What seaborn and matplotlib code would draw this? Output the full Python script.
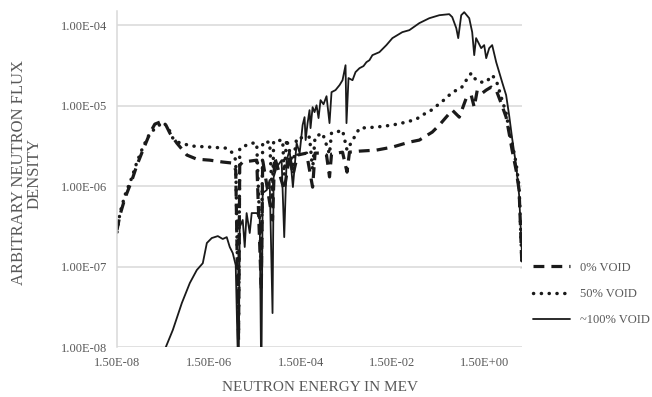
import numpy as np
import pandas as pd
import matplotlib
matplotlib.use("Agg")
import matplotlib.pyplot as plt
import seaborn as sns
from matplotlib.ticker import FixedLocator, FuncFormatter, NullLocator

# ---------------- data (energy in MeV, arbitrary flux density) ----------------
void100_energy = [1.0e-7, 1.74e-7, 2.47e-7, 3.88e-7, 5.79e-7, 8.22e-7, 1.11e-6, 1.36e-6,
                  1.74e-6, 2.36e-6, 3.02e-6, 3.69e-6, 4.29e-6, 4.99e-6, 5.79e-6, 6.67e-6,
                  7.08e-6, 8.22e-6, 9.10e-6, 1.00e-5, 1.17e-5, 1.29e-5, 1.66e-5, 1.93e-5,
                  2.09e-5, 2.24e-5, 2.74e-5, 3.18e-5, 3.67e-5, 3.88e-5, 4.51e-5, 5.79e-5,
                  6.6e-5, 7.44e-5, 8.65e-5, 1.02e-4, 1.23e-4, 1.43e-4, 1.66e-4, 1.83e-4,
                  1.93e-4, 2.13e-4, 2.35e-4, 2.47e-4, 2.74e-4, 3.02e-4, 3.34e-4, 3.69e-4,
                  4.08e-4, 4.74e-4, 5.51e-4, 6.40e-4, 7.08e-4, 8.65e-4, 1.06e-3, 1.23e-3,
                  1.43e-3, 1.50e-3, 1.66e-3, 2.03e-3, 2.36e-3, 2.88e-3, 3.52e-3, 4.08e-3,
                  4.74e-3, 5.51e-3, 7.82e-3, 1.11e-2,
                  1.50e-2, 2.47e-2, 3.51e-2, 5.79e-2, 9.55e-2, 0.158, 0.260, 0.302, 0.370,
                  0.408, 0.474, 0.551, 0.708, 0.822, 0.910, 1.00, 1.29, 1.50, 1.66, 1.93,
                  2.24, 2.74, 3.18, 3.69, 4.51, 5.24, 6.09, 7.44, 8.65, 10.0]
void100_flux = [3e-9, 1.0e-8, 1.63e-8, 3.52e-8, 6.24e-8, 9.05e-8, 1.10e-7, 1.96e-7,
                2.26e-7, 2.39e-7, 2.20e-7, 2.32e-7, 1.75e-7, 1.47e-7, 1.04e-7, 3e-9,
                3.10e-7, 3.79e-7, 1.75e-7, 4.62e-7, 2.61e-7, 4.62e-7, 4.62e-7, 4.12e-7,
                3e-9, 8.19e-7, 8.92e-7, 1.19e-6, 2.64e-8, 1.29e-6, 1.72e-6, 2.10e-6,
                2.32e-7, 2.10e-6, 2.80e-6, 9.72e-7, 3.42e-6, 2.57e-6, 5.73e-6, 7.19e-6,
                3.73e-6, 6.06e-6, 8.79e-6, 5.25e-6, 9.57e-6, 8.30e-6, 1.01e-5, 7.0e-6,
                1.17e-5, 1.04e-5, 1.31e-5, 6.06e-6, 1.47e-5, 1.56e-5, 1.80e-5, 2.07e-5,
                3.18e-5, 6.06e-6, 2.20e-5, 2.07e-5, 2.61e-5, 2.92e-5, 3.10e-5, 3.47e-5,
                3.67e-5, 4.24e-5, 4.62e-5, 5.65e-5,
                6.90e-5, 8.19e-5, 8.67e-5, 1.06e-4, 1.22e-4, 1.33e-4, 1.37e-4, 1.26e-4, 9.18e-5,
                6.90e-5, 1.33e-4, 1.45e-4, 1.22e-4, 8.19e-5, 4.24e-5, 6.90e-5, 5.18e-5, 5.65e-5, 3.89e-5, 5.18e-5,
                5.65e-5, 3.47e-5, 2.61e-5, 1.96e-5, 1.35e-5, 7.62e-6, 3.94e-6, 1.82e-6, 7.73e-7, 1.39e-7]

void50_energy = [1.50e-8, 1.74e-8, 2.24e-8, 3.18e-8, 4.08e-8, 5.51e-8, 7.82e-8, 1.11e-7,
                 1.50e-7, 1.93e-7, 2.47e-7, 3.51e-7, 6.73e-7, 1.58e-6, 3.69e-6, 4.99e-6,
                 5.79e-6, 6.67e-6, 7.08e-6, 1.00e-5, 1.29e-5, 1.66e-5, 2.09e-5, 2.24e-5,
                 3.18e-5, 3.67e-5, 3.88e-5, 6.10e-5, 6.6e-5, 7.44e-5, 1.02e-4, 1.23e-4,
                 2.35e-4, 2.74e-4, 3.10e-4, 4.51e-4, 6.40e-4, 7.08e-4, 9.10e-4, 1.23e-3,
                 1.54e-3, 2.88e-3, 6.73e-3, 1.50e-2,
                 3.02e-2, 4.99e-2, 6.73e-2, 0.106, 0.224, 0.302, 0.474, 0.610, 0.782, 0.910,
                 1.17, 1.66, 2.24, 2.74, 3.18, 3.69, 4.51, 5.24, 6.09, 7.44, 8.65, 10.0]
void50_flux = [2.68e-7, 4.62e-7, 7.73e-7, 1.29e-6, 1.99e-6, 3.05e-6, 4.55e-6, 5.41e-6,
               6.24e-6, 5.41e-6, 3.94e-6, 3.42e-6, 3.14e-6, 3.05e-6, 2.96e-6, 2.57e-6,
               2.10e-6, 1.63e-8, 2.96e-6, 3.23e-6, 3.42e-6, 3.42e-6, 9.86e-8, 3.52e-6,
               3.52e-6, 6.70e-7, 3.62e-6, 3.73e-6, 1.37e-6, 3.84e-6, 1.82e-6, 3.94e-6,
               4.06e-6, 1.60e-6, 4.10e-6, 4.55e-6, 2.50e-6, 4.60e-6, 4.69e-6, 4.96e-6,
               2.80e-6, 5.25e-6, 5.41e-6, 5.73e-6,
               6.24e-6, 6.79e-6, 7.62e-6, 8.79e-6, 1.24e-5, 1.47e-5, 1.65e-5, 2.07e-5, 2.53e-5, 2.20e-5,
               1.96e-5, 1.96e-5, 2.39e-5, 2.07e-5, 1.56e-5, 1.17e-5, 8.07e-6, 4.96e-6, 3.42e-6, 1.93e-6, 9.72e-7, 1.04e-7]

void0_energy = [1.50e-8, 1.74e-8, 2.24e-8, 3.18e-8, 4.08e-8, 5.51e-8, 7.82e-8, 1.00e-7,
                1.29e-7, 1.66e-7, 2.13e-7, 3.02e-7, 4.99e-7, 8.22e-7, 1.58e-6, 3.02e-6,
                4.99e-6, 5.79e-6, 6.67e-6, 7.08e-6, 8.22e-6, 1.66e-5, 2.09e-5, 2.24e-5,
                3.67e-5, 4.08e-5, 6.6e-5, 8.65e-5, 1.02e-4, 1.29e-4, 2.02e-4, 2.74e-4,
                3.10e-4, 4.51e-4, 5.51e-4, 6.40e-4, 7.08e-4, 1.23e-3, 1.54e-3, 1.74e-3,
                2.88e-3, 6.73e-3, 1.50e-2,
                3.51e-2, 5.79e-2, 0.111, 0.158, 0.302, 0.430, 0.610, 0.782, 0.910, 1.06,
                1.36, 1.66, 2.13, 2.74, 3.52, 4.51, 5.24, 6.09, 7.44, 8.65, 10.0]
void0_flux = [2.84e-7, 4.36e-7, 7.10e-7, 1.19e-6, 1.82e-6, 2.80e-6, 4.55e-6, 5.89e-6,
              6.24e-6, 6.06e-6, 4.55e-6, 3.42e-6, 2.43e-6, 2.16e-6, 2.10e-6, 1.99e-6,
              1.93e-6, 1.58e-6, 1.22e-8, 1.82e-6, 1.99e-6, 2.10e-6, 5.11e-8, 2.10e-6,
              3.79e-7, 2.29e-6, 8.92e-7, 2.43e-6, 1.37e-6, 2.43e-6, 2.57e-6, 9.70e-7,
              2.57e-6, 2.57e-6, 2.43e-6, 1.30e-6, 2.50e-6, 2.64e-6, 1.49e-6, 2.64e-6,
              2.72e-6, 2.80e-6, 3.05e-6,
              3.52e-6, 3.73e-6, 4.69e-6, 5.73e-6, 8.79e-6, 7.19e-6, 1.24e-5, 1.35e-5, 9.57e-6, 1.56e-5,
              1.43e-5, 1.56e-5, 1.70e-5, 1.56e-5, 1.07e-5, 7.19e-6, 4.55e-6, 2.80e-6, 1.58e-6, 8.92e-7, 9.57e-8]

series_labels = ["0% VOID", "50% VOID", "~100% VOID"]
x_ticks = [1.5e-8, 1.5e-6, 1.5e-4, 1.5e-2, 1.5e0]
y_ticks = [1e-8, 1e-7, 1e-6, 1e-5, 1e-4]

# ---------------- plotting ----------------
sns.set_theme(style="white")
plt.rcParams["font.family"] = ["Liberation Serif", "DejaVu Serif"]
text_color = "#595959"
grid_color = "#d9d9d9"

fig = plt.figure(figsize=(6.52, 3.97), dpi=100)
ax = fig.add_axes([117 / 652, 1 - 347 / 397, (522 - 117) / 652, (347 - 11) / 397])

df0 = pd.DataFrame({"E": void0_energy, "F": void0_flux})
df50 = pd.DataFrame({"E": void50_energy, "F": void50_flux})
df100 = pd.DataFrame({"E": void100_energy, "F": void100_flux})

sns.lineplot(data=df0, x="E", y="F", ax=ax, color="#1a1a1a", lw=2.3,
             linestyle=(0, (3.4, 2.2)), estimator=None, sort=False, label=series_labels[0])
sns.lineplot(data=df50, x="E", y="F", ax=ax, color="#1a1a1a", lw=2.5,
             linestyle=(0, (0.05, 2.2)), dash_capstyle="round", estimator=None, sort=False,
             label=series_labels[1])
sns.lineplot(data=df100, x="E", y="F", ax=ax, color="#1a1a1a", lw=1.3,
             linestyle="-", estimator=None, sort=False, label=series_labels[2])

ax.set_xscale("log")
ax.set_yscale("log")
ax.set_xlim(1.5e-8, 10.0)
ax.set_ylim(1e-8, 1.5e-4)

ax.xaxis.set_major_locator(FixedLocator(x_ticks))
ax.yaxis.set_major_locator(FixedLocator(y_ticks))
ax.xaxis.set_minor_locator(NullLocator())
ax.yaxis.set_minor_locator(NullLocator())
fmt = FuncFormatter(lambda v, p: f"{v:.2E}")
ax.xaxis.set_major_formatter(fmt)
ax.yaxis.set_major_formatter(fmt)

ax.tick_params(axis="both", length=0, labelsize=9, labelcolor=text_color)
ax.tick_params(axis="y", pad=7)
ax.tick_params(axis="x", pad=7)

ax.grid(axis="y", color=grid_color, lw=1.1)
ax.grid(axis="x", visible=False)
for s in ["top", "right", "bottom"]:
    ax.spines[s].set_visible(False)
ax.spines["left"].set_color(grid_color)
ax.spines["left"].set_linewidth(1.1)
ax.set_axisbelow(True)

ax.set_xlabel("NEUTRON ENERGY IN MEV", fontsize=11, color=text_color, labelpad=9)
ax.set_ylabel("ARBITRARY NEUTRON FLUX\nDENSITY", fontsize=12, color=text_color,
              linespacing=0.95, va="center", ha="center")
ax.yaxis.set_label_coords(-0.222, 0.518)

leg = ax.legend(loc="center left", bbox_to_anchor=(1.027, 0.158), frameon=False,
                fontsize=9, labelcolor=text_color, handlelength=2.95, handletextpad=0.8,
                labelspacing=1.15, borderpad=0, borderaxespad=0)

fig.savefig("out.png", dpi=100)
